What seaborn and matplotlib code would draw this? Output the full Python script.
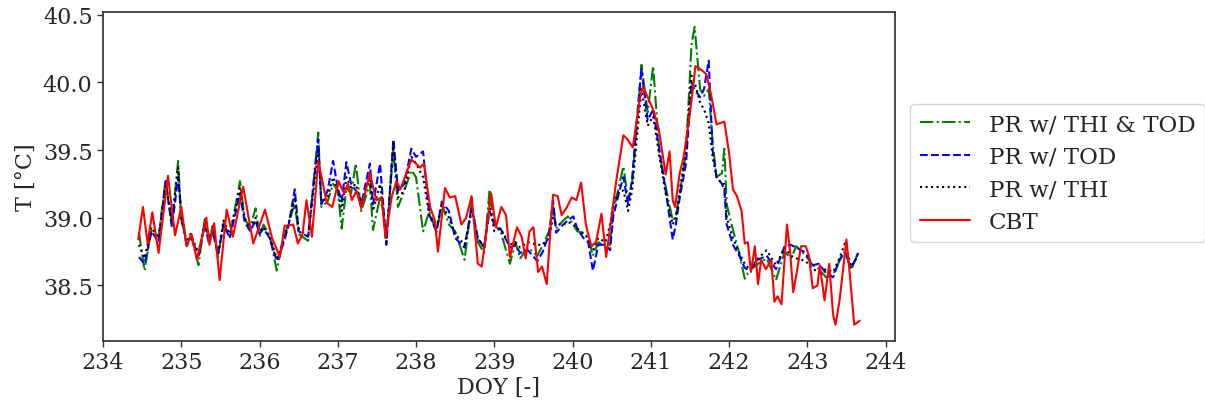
import matplotlib
matplotlib.use("Agg")
import matplotlib.pyplot as plt
import seaborn as sns

# Day of year for the model predictions
doy_pr = [
    234.46, 234.53, 234.62, 234.71, 234.80, 234.88, 234.96, 235.00, 235.07, 235.12,
    235.22, 235.30, 235.35, 235.40, 235.47, 235.54, 235.62, 235.75, 235.81, 235.88,
    235.95, 236.00, 236.05, 236.13, 236.22, 236.30, 236.37, 236.45, 236.50, 236.62,
    236.75, 236.79, 236.87, 236.94, 237.00, 237.05, 237.11, 237.17, 237.23, 237.30,
    237.41, 237.45, 237.54, 237.58, 237.62, 237.71, 237.77, 237.85, 237.94, 238.00,
    238.09, 238.17, 238.26, 238.33, 238.42, 238.50, 238.62, 238.71, 238.79, 238.87,
    238.94, 239.00, 239.08, 239.20, 239.27, 239.33, 239.43, 239.55, 239.62, 239.70,
    239.75, 239.79, 239.88, 239.94, 240.01, 240.06, 240.14, 240.20, 240.26, 240.33,
    240.42, 240.48, 240.52, 240.60, 240.65, 240.71, 240.76, 240.84, 240.88, 240.96,
    241.03, 241.11, 241.19, 241.28, 241.32, 241.37, 241.45, 241.52, 241.56, 241.63,
    241.68, 241.74, 241.79, 241.84, 241.91, 241.94, 241.97, 242.05, 242.13, 242.20,
    242.26, 242.37, 242.48, 242.60, 242.71, 242.79, 242.86, 242.98, 243.07, 243.15,
    243.24, 243.33, 243.41, 243.48, 243.56, 243.65,
]

# Predicted body temperature, PR with THI and time of day
pr_thi_tod = [
    38.89, 38.61, 38.92, 38.86, 39.28, 38.96, 39.42, 38.99, 38.79, 38.88,
    38.65, 38.99, 38.84, 38.94, 38.71, 38.96, 38.86, 39.27, 38.99, 38.93,
    39.07, 38.86, 38.95, 38.87, 38.61, 38.84, 38.96, 39.10, 38.88, 38.83,
    39.63, 39.08, 39.12, 39.25, 39.20, 38.92, 39.22, 39.18, 39.40, 39.05,
    39.25, 38.91, 39.15, 39.05, 38.85, 39.50, 39.08, 39.20, 39.35, 39.30,
    38.90, 39.05, 38.89, 39.10, 38.95, 38.90, 38.69, 39.11, 38.82, 38.74,
    39.21, 38.95, 38.90, 38.66, 38.82, 38.70, 38.78, 38.72, 38.80, 38.90,
    39.10, 38.92, 38.98, 39.01, 38.95, 38.90, 38.89, 38.85, 38.72, 38.82,
    38.78, 38.80, 39.05, 39.25, 39.38, 39.13, 39.25, 39.80, 40.13, 39.78,
    40.12, 39.48, 39.23, 38.98, 39.01, 39.18, 39.48, 40.28, 40.41, 39.95,
    39.90, 39.95, 39.56, 39.30, 39.33, 39.51, 39.10, 38.91, 38.74, 38.55,
    38.61, 38.66, 38.70, 38.54, 38.75, 38.70, 38.79, 38.72, 38.65, 38.62,
    38.56, 38.58, 38.68, 38.75, 38.62, 38.74,
]

# Predicted body temperature, PR with time of day
pr_tod = [
    38.71, 38.66, 38.90, 38.82, 39.27, 38.93, 39.30, 39.02, 38.80, 38.86,
    38.72, 38.95, 38.82, 38.90, 38.73, 38.95, 38.85, 39.18, 38.97, 38.90,
    38.98, 38.88, 38.92, 38.85, 38.68, 38.80, 38.94, 39.21, 38.90, 38.86,
    39.58, 39.10, 39.20, 39.42, 39.22, 39.12, 39.41, 39.25, 39.20, 39.10,
    39.40, 39.10, 39.40, 39.10, 38.80, 39.58, 39.20, 39.25, 39.51, 39.45,
    39.49, 39.02, 38.90, 39.12, 39.05, 38.85, 38.78, 39.08, 38.85, 38.78,
    39.05, 38.95, 38.92, 38.78, 38.80, 38.74, 38.76, 38.68, 38.75, 38.88,
    39.13, 38.89, 38.95, 38.98, 39.01, 38.92, 38.85, 38.82, 38.61, 38.80,
    38.80, 38.76, 39.01, 39.20, 39.30, 39.10, 39.28, 39.85, 40.10, 39.72,
    39.80, 39.50, 39.20, 38.84, 38.95, 39.15, 39.40, 40.00, 39.95, 39.89,
    39.95, 40.16, 39.50, 39.30, 39.25, 39.20, 38.95, 38.80, 38.72, 38.63,
    38.61, 38.69, 38.72, 38.62, 38.79, 38.80, 38.78, 38.74, 38.65, 38.66,
    38.59, 38.56, 38.69, 38.75, 38.62, 38.74,
]

# Predicted body temperature, PR with THI
pr_thi = [
    38.80, 38.70, 38.93, 38.85, 39.25, 38.98, 39.37, 39.00, 38.82, 38.88,
    38.74, 38.97, 38.85, 38.92, 38.74, 38.98, 38.88, 39.22, 39.00, 38.92,
    39.00, 38.90, 38.93, 38.86, 38.70, 38.82, 38.95, 39.15, 38.92, 38.86,
    39.50, 39.12, 39.15, 39.30, 39.20, 39.05, 39.30, 39.22, 39.25, 39.10,
    39.30, 39.05, 39.25, 39.08, 38.82, 39.55, 39.15, 39.20, 39.45, 39.40,
    39.30, 39.02, 38.92, 39.10, 39.00, 38.88, 38.80, 39.05, 38.85, 38.78,
    39.10, 38.90, 38.92, 38.80, 38.82, 38.78, 38.82, 38.80, 38.80, 38.85,
    39.00, 38.95, 38.95, 38.97, 38.95, 38.92, 38.88, 38.85, 38.76, 38.85,
    38.82, 38.95, 39.10, 39.20, 39.20, 39.05, 39.20, 39.70, 39.95, 39.68,
    39.75, 39.45, 39.18, 38.95, 39.00, 39.20, 39.50, 40.05, 40.00, 39.85,
    39.80, 39.70, 39.45, 39.30, 39.25, 39.25, 39.00, 38.85, 38.74, 38.66,
    38.62, 38.70, 38.76, 38.65, 38.78, 38.72, 38.70, 38.68, 38.62, 38.60,
    38.62, 38.60, 38.70, 38.81, 38.64, 38.72,
]

# Day of year for the measured core body temperature
doy_cbt = [
    234.45, 234.51, 234.57, 234.63, 234.71, 234.83, 234.92, 235.00, 235.07, 235.13,
    235.20, 235.32, 235.36, 235.42, 235.49, 235.58, 235.66, 235.79, 235.92, 236.07,
    236.16, 236.26, 236.32, 236.43, 236.49, 236.55, 236.60, 236.67, 236.75, 236.86,
    236.93, 237.01, 237.08, 237.13, 237.18, 237.24, 237.30, 237.41, 237.49, 237.56,
    237.61, 237.69, 237.75, 237.80, 237.94, 238.00, 238.05, 238.10, 238.18, 238.24,
    238.28, 238.37, 238.43, 238.50, 238.58, 238.64, 238.71, 238.79, 238.84, 238.96,
    239.02, 239.09, 239.15, 239.20, 239.29, 239.35, 239.40, 239.45, 239.50, 239.56,
    239.61, 239.67, 239.75, 239.81, 239.86, 239.92, 239.99, 240.05, 240.11, 240.17,
    240.24, 240.30, 240.37, 240.43, 240.56, 240.65, 240.70, 240.77, 240.86, 240.90,
    240.96, 241.03, 241.10, 241.19, 241.24, 241.28, 241.31, 241.37, 241.42, 241.49,
    241.54, 241.57, 241.63, 241.71, 241.77, 241.84, 241.89, 241.94, 242.00, 242.05,
    242.10, 242.16, 242.20, 242.24, 242.28, 242.33, 242.37, 242.41, 242.47, 242.54,
    242.58, 242.62, 242.67, 242.74, 242.78, 242.82, 242.86, 242.92, 242.98, 243.02,
    243.07, 243.13, 243.16, 243.22, 243.28, 243.33, 243.36, 243.41, 243.50, 243.54,
    243.60, 243.67,
]

# Measured core body temperature
cbt = [
    38.84, 39.08, 38.81, 39.04, 38.74, 39.31, 38.87, 39.08, 38.79, 38.88,
    38.69, 39.00, 38.80, 38.96, 38.54, 39.06, 38.86, 39.23, 38.81, 39.06,
    38.85, 38.71, 38.94, 38.95, 38.81, 38.88, 39.13, 38.86, 39.42, 39.11,
    39.08, 39.27, 39.18, 39.25, 39.13, 39.20, 39.07, 39.33, 39.13, 39.15,
    38.85, 39.16, 39.27, 39.21, 39.43, 39.40, 39.37, 39.40, 39.08, 38.98,
    38.75, 39.22, 39.15, 39.16, 38.95, 39.00, 39.16, 38.66, 38.64, 39.18,
    38.93, 39.08, 39.02, 38.71, 38.93, 38.86, 38.70, 38.90, 38.93, 38.60,
    38.64, 38.51, 39.17, 39.16, 39.02, 39.07, 39.15, 39.13, 39.26, 38.95,
    38.79, 38.82, 39.03, 38.71, 39.28, 39.61, 39.58, 39.52, 39.88, 39.97,
    39.89, 39.80, 39.66, 39.32, 39.49, 39.13, 39.08, 39.33, 39.45, 39.73,
    39.96, 40.12, 40.10, 40.06, 39.91, 39.69, 39.70, 39.71, 39.48, 39.21,
    39.16, 39.05, 38.81, 38.82, 38.60, 38.79, 38.51, 38.69, 38.62, 38.69,
    38.38, 38.42, 38.36, 38.95, 38.75, 38.45, 38.58, 38.79, 38.79, 38.72,
    38.48, 38.50, 38.65, 38.39, 38.66, 38.28, 38.21, 38.38, 38.84, 38.60,
    38.21, 38.24,
]

labels = ["PR w/ THI & TOD", "PR w/ TOD", "PR w/ THI", "CBT"]

sns.set_theme(style="ticks")
plt.rcParams["font.family"] = ["DejaVu Serif", "DejaVu Sans"]
plt.rcParams["axes.edgecolor"] = "0.2"

fig = plt.figure(figsize=(12.05, 4.02), dpi=100)
ax = fig.add_axes([0.0855, 0.1493, 0.6572, 0.8184])

kw = dict(estimator=None, sort=False, linewidth=1.5, ax=ax)
sns.lineplot(x=doy_pr, y=pr_thi_tod, color="green", linestyle="-.", label=labels[0], **kw)
sns.lineplot(x=doy_pr, y=pr_tod, color="blue", linestyle="--", label=labels[1], **kw)
sns.lineplot(x=doy_pr, y=pr_thi, color="black", linestyle=":", label=labels[2], **kw)
sns.lineplot(x=doy_cbt, y=cbt, color="red", linestyle="-", label=labels[3], **kw)

ax.set_xlim(234.0, 244.12)
ax.set_ylim(38.09, 40.52)
ax.set_xticks(range(234, 245))
ax.set_yticks([38.5, 39.0, 39.5, 40.0, 40.5])
ax.set_yticklabels(["38.5", "39.0", "39.5", "40.0", "40.5"])
ax.tick_params(axis="both", labelsize=16, length=4, width=1, color="0.2")
ax.set_xlabel("DOY [-]", fontsize=16, labelpad=2)
ax.set_ylabel("T [\u00b0C]", fontsize=16, labelpad=4)

handles, labs = ax.get_legend_handles_labels()
ax.get_legend().remove()
fig.legend(handles, labs, loc="center left", bbox_to_anchor=(0.746, 0.567),
           fontsize=16.6, frameon=True, fancybox=True, edgecolor="0.8",
           handlelength=2.2, labelspacing=0.45)

fig.savefig("out.png", dpi=100)
